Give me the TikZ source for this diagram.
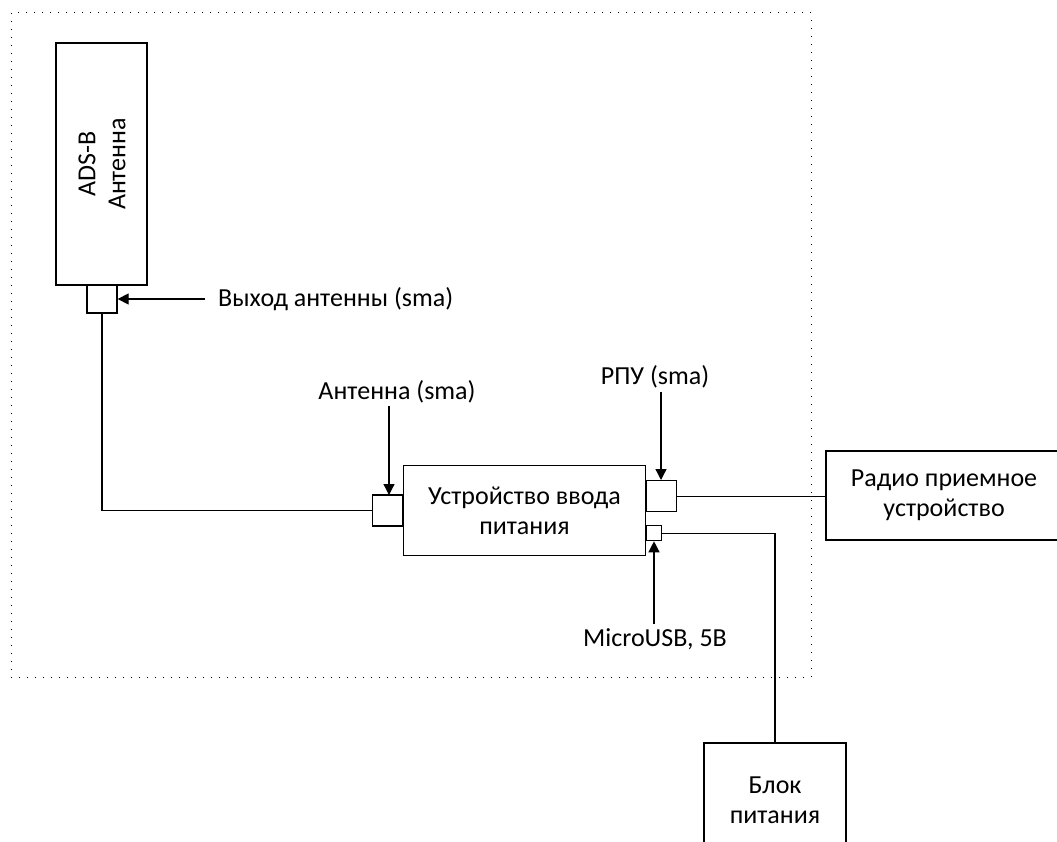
\documentclass[tikz,border=0pt]{standalone}
\usepackage{fontspec}
\setmainfont{Carlito}
\usetikzlibrary{arrows.meta}
\begin{document}
\begin{tikzpicture}[x=1pt,y=-1pt,
  box/.style={draw,line width=1.3pt,inner sep=0pt,align=center,font=\fontsize{26}{30}\selectfont},
  conn/.style={draw,line width=1.3pt,inner sep=0pt},
  lbl/.style={inner sep=0pt,font=\fontsize{26}{30}\selectfont},
  wire/.style={line width=1.3pt},
  ptr/.style={line width=1.3pt,-{Triangle[length=11pt,width=11pt]}}]
\useasboundingbox (0,0) rectangle (1057,842);
\clip (0,0) rectangle (1057,842);
\draw[line width=1pt,dash pattern=on 1pt off 7pt] (11,13) rectangle (811,677);
% antenna
\node[box,minimum width=91pt,minimum height=242pt] (ant) at (101.5,164) {};
\node[lbl,rotate=90,align=center] (anttxt) at (102,164) {ADS-B\\Антенна};
\node[conn,minimum width=30pt,minimum height=28pt] (antout) at (102,299) {};
\node[lbl,anchor=west] (lblout) at (218,299) {Выход антенны (sma)};
\coordinate (aoarr) at (205,299);
\draw[ptr] (aoarr) -- (antout.east);
% device
\node[box,minimum width=242pt,minimum height=90pt] (dev) at (524.5,510.5) {Устройство ввода\\питания};
\node[conn,minimum width=30pt,minimum height=31pt,anchor=east] (lconn) at (dev.west |- 0,510.5) {};
\node[conn,minimum width=30pt,minimum height=31pt,anchor=north west] (rconn) at (dev.east |- 0,480) {};
\node[conn,minimum width=15pt,minimum height=15pt,anchor=north west] (usb) at (dev.east |- 0,525) {};
% labels
\node[lbl] (lblant) at (397,392) {Антенна (sma)};
\coordinate (antarr) at (389,406);
\draw[ptr] (antarr) -- (389,495);
\node[lbl] (lblrpu) at (655,377) {РПУ (sma)};
\coordinate (rpuarr) at (661,392);
\draw[ptr] (rpuarr) -- (rconn.north -| rpuarr);
\node[lbl] (lblusb) at (655,639) {MicroUSB, 5В};
\coordinate (usbarr) at (654,624);
\draw[ptr] (usbarr) -- (usb.south -| usbarr);
% radio & power
\node[box,minimum width=236pt,minimum height=89pt] (radio) at (944,495.5) {Радио приемное\\устройство};
\node[box,minimum width=142pt,minimum height=114pt] (pw) at (775,800) {Блок\\питания};
% wires
\draw[wire] (antout.south) |- (lconn.west);
\draw[wire] (rconn.east) -- (rconn.east -| radio.west);
\draw[wire] (usb.east) -| (pw.north);
\end{tikzpicture}
\end{document}
